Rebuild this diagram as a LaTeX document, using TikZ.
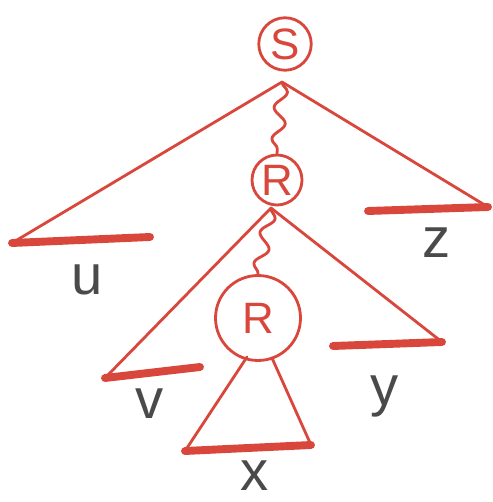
\documentclass[tikz,border=0pt]{standalone}
\usepackage{fontspec}
\setsansfont{Liberation Sans}
\usetikzlibrary{decorations.pathmorphing,calc}
\definecolor{pen}{HTML}{D9473C}
\definecolor{pencil}{HTML}{4A4A4A}

\begin{document}
\begin{tikzpicture}[x=0.02cm,y=-0.02cm,line width=1.6pt,line cap=round,line join=round,
    var/.style={circle,draw=pen,text=pen,line width=1.6pt,font=\sffamily\fontsize{25}{27}\selectfont,inner sep=0pt},
    leaf/.style={text=pencil,font=\sffamily\fontsize{32}{34}\selectfont},
    edge/.style={pen},
    base/.style={pen,line width=4.5pt},
    chain/.style={pen,decorate,decoration={snake,amplitude=3.5pt,segment length=18pt}}]
  \useasboundingbox (0,0) rectangle (492,502);
  % variables
  \node[var,minimum size=1.05cm] (S) at (285,44) {S};
  \node[var,minimum size=1cm] (R1) at (277,180) {R};
  \node[var,minimum size=1.7cm] (R2) at (258,318) {R};
  % apexes and base ends
  \coordinate (top) at (282,82);
  \coordinate (mid) at (271,208);
  \foreach \n/\x/\y in {u1/12/243,u2/150/237,z1/368/211,z2/488/207,
      v1/105/378,v2/200/367,y1/333/346,y2/442/342,x1/185/451,x2/311/445,
      xl/247/357,xr/272/358}
    \coordinate (\n) at (\x,\y);
  % outer tree
  \draw[edge] (u1) -- (top) -- (z2);
  \draw[chain] (top) -- (R1.north);
  % middle tree
  \draw[edge] (v1) -- (mid) -- (y2);
  \draw[chain] (mid) -- (R2.north);
  % inner tree
  \draw[edge] (x1) -- (xl);
  \draw[edge] (xr) -- (x2);
  % yields
  \foreach \a/\b in {u1/u2,z1/z2,v1/v2,y1/y2,x1/x2}
    \draw[base] (\a) -- (\b);
  \foreach \n/\x/\y in {u/87/280,z/437/243,v/150/404,y/385/396,x/255/476}
    \node[leaf] (\n) at (\x,\y) {\n};
\end{tikzpicture}
\end{document}
